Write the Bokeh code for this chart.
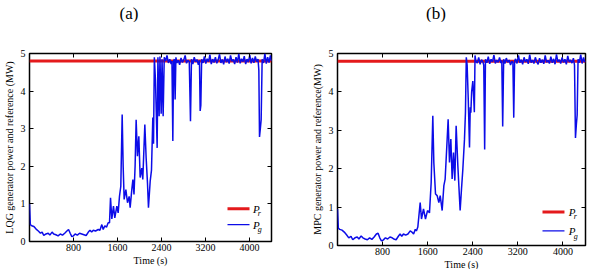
from bokeh.plotting import figure
from bokeh.layouts import row, column
from bokeh.models import LinearAxis, FixedTicker, Range1d, CustomLabelingPolicy, Div
from bokeh.core.properties import value
from bokeh.embed import file_html
from bokeh.resources import INLINE

# ---------------- data ----------------
X_TICKS = [800, 1600, 2400, 3200, 4000]
Y_TICKS = [0, 1, 2, 3, 4, 5]
X_RANGE = (0, 4400)
Y_RANGE = (0, 5)

REF_T = [0, 4400]
REF_P = [4.8, 4.8]

LQG_T = [0, 15, 40, 80, 120, 160, 200, 230, 260, 300, 340, 370, 410, 440, 480, 520, 560, 600, 640, 680,
         710, 740, 770, 800, 830, 870, 910, 950, 990, 1030, 1070, 1100, 1130, 1160, 1200, 1250, 1280, 1315,
         1340, 1370, 1400, 1430,
         1455, 1473, 1497, 1527, 1551, 1588, 1612, 1636, 1660, 1685, 1703, 1721, 1752, 1782, 1812, 1830,
         1860, 1880, 1900, 1920, 1939, 1963, 1988, 2012, 2042, 2060, 2097, 2121, 2145, 2163, 2194, 2218,
         2242, 2255, 2270, 2290, 2321, 2335, 2357, 2372, 2394, 2410, 2430, 2450,
         2475, 2500, 2525, 2550, 2575, 2590, 2606, 2620, 2635, 2648, 2662, 2680, 2705, 2730, 2755, 2780,
         2805, 2830, 2855, 2880, 2905, 2927, 2945, 2970, 2995, 3020, 3045, 3070, 3090, 3103, 3115, 3130,
         3155, 3180, 3205, 3230, 3255, 3280, 3305, 3330, 3355, 3380, 3405, 3430, 3455, 3480, 3505, 3530,
         3555, 3580, 3605, 3630, 3655, 3680, 3705, 3730, 3755, 3780, 3805, 3830, 3855, 3880, 3905, 3930,
         3955, 3980, 4005, 4030, 4055, 4080, 4105, 4130, 4155, 4170, 4182, 4197, 4212, 4230, 4255, 4280,
         4305, 4330, 4355, 4380, 4400]
LQG_P = [1.0, 0.45, 0.42, 0.4, 0.33, 0.28, 0.22, 0.25, 0.16, 0.2, 0.22, 0.17, 0.25, 0.2, 0.18, 0.15, 0.2, 0.17, 0.22, 0.28,
         0.32, 0.22, 0.13, 0.15, 0.2, 0.17, 0.22, 0.2, 0.18, 0.16, 0.25, 0.3, 0.25, 0.3, 0.28, 0.32, 0.3, 0.45,
         0.32, 0.42, 0.38, 0.5,
         0.5, 1.16, 0.6, 0.94, 0.63, 0.94, 0.76, 1.2, 1.47, 3.38, 2.0, 1.12, 1.38, 1.03, 1.2, 0.9,
         1.38, 1.65, 1.25, 2.0, 3.24, 2.27, 2.8, 1.7, 1.95, 1.65, 3.11, 2.22, 1.56, 0.9, 1.6, 1.9,
         3.3, 2.6, 4.9, 4.3, 2.49, 4.9, 3.33, 4.92, 3.4, 4.85, 3.33, 4.9,
         4.8, 4.95, 4.75, 4.85, 4.72, 4.8, 2.67, 4.8, 4.85, 3.78, 4.9, 4.75, 4.82, 4.7, 4.88, 4.76,
         4.83, 4.95, 4.74, 4.82, 4.78, 3.2, 4.85, 4.72, 4.9, 4.78, 4.84, 4.7, 4.82, 3.47, 3.62, 4.85,
         4.75, 4.92, 4.73, 4.86, 4.78, 4.97, 4.72, 4.85, 4.76, 4.9, 4.74, 4.83, 4.98, 4.75, 4.84, 4.71,
         4.92, 4.77, 4.86, 4.73, 4.95, 4.79, 4.84, 4.72, 4.9, 4.76, 4.99, 4.74, 4.86, 4.78, 4.93, 4.72,
         4.85, 4.77, 4.96, 4.74, 4.88, 4.75, 4.92, 4.78, 4.85, 4.55, 2.78, 3.0, 3.24, 4.85, 4.75, 5.0,
         4.73, 4.9, 4.76, 4.95, 4.8]

MPC_T = [0, 15, 40, 80, 120, 160, 200, 240, 270, 310, 350, 380, 420, 450, 490, 530, 570, 610, 650, 690,
         720, 750, 780, 810, 850, 890, 930, 970, 1010, 1040, 1080, 1110, 1140, 1170, 1210, 1250, 1290, 1320,
         1350, 1380, 1400, 1425,
         1467, 1490, 1526, 1561, 1597, 1632, 1662, 1691, 1709, 1739, 1768, 1798, 1822, 1857, 1887, 1910,
         1940, 1963, 1987, 2011, 2034, 2058, 2082, 2105, 2135, 2153, 2176, 2200, 2224, 2253, 2270, 2285,
         2300, 2320, 2342, 2355, 2366, 2380, 2401, 2415, 2428, 2440, 2455,
         2480, 2505, 2530, 2555, 2580, 2595, 2611, 2625, 2650, 2675, 2700, 2725, 2750, 2775, 2800, 2825,
         2850, 2875, 2900, 2915, 2931, 2948, 2970, 2995, 3020, 3045, 3070, 3095, 3112, 3127, 3142, 3160,
         3185, 3210, 3235, 3260, 3285, 3310, 3335, 3360, 3385, 3410, 3435, 3460, 3485, 3510, 3535, 3560,
         3585, 3610, 3635, 3660, 3685, 3710, 3735, 3760, 3785, 3810, 3835, 3860, 3885, 3910, 3935, 3960,
         3985, 4010, 4035, 4060, 4085, 4110, 4135, 4160, 4185, 4205, 4222, 4238, 4252, 4268, 4290, 4315,
         4340, 4365, 4385, 4400]
MPC_P = [0.95, 0.45, 0.42, 0.4, 0.35, 0.28, 0.2, 0.24, 0.15, 0.2, 0.22, 0.17, 0.25, 0.2, 0.17, 0.15, 0.2, 0.16, 0.22, 0.3,
         0.32, 0.2, 0.12, 0.14, 0.2, 0.17, 0.22, 0.2, 0.16, 0.15, 0.24, 0.3, 0.24, 0.3, 0.27, 0.3, 0.38, 0.35,
         0.3, 0.42, 0.38, 0.48,
         1.12, 0.69, 0.95, 0.69, 0.91, 0.85, 1.64, 3.38, 2.16, 1.34, 1.3, 1.12, 1.3, 0.91, 1.56, 1.73,
         2.6, 3.29, 2.16, 2.77, 1.73, 2.42, 1.69, 3.12, 2.08, 1.56, 0.91, 1.47, 1.99, 2.77, 3.46, 4.9,
         4.7, 3.8, 2.55, 3.6, 3.46, 4.0, 4.28, 3.9, 3.47, 4.95, 4.8,
         4.75, 4.9, 4.72, 4.84, 4.78, 4.7, 2.5, 4.85, 4.76, 4.92, 4.73, 4.85, 4.78, 4.96, 4.74, 4.83,
         4.77, 4.9, 4.75, 4.82, 3.1, 4.85, 4.74, 4.88, 4.77, 4.83, 4.7, 4.8, 4.76, 3.33, 4.8, 4.86,
         4.74, 4.95, 4.76, 4.84, 4.72, 4.9, 4.78, 4.85, 4.73, 4.97, 4.76, 4.83, 4.74, 4.9, 4.78, 4.72,
         4.88, 4.76, 4.84, 4.73, 4.95, 4.77, 4.82, 4.74, 4.92, 4.76, 4.86, 4.72, 4.98, 4.78, 4.84, 4.74,
         4.9, 4.77, 4.85, 4.72, 4.94, 4.78, 4.83, 4.75, 4.88, 4.7, 2.8, 3.15, 3.4, 4.85, 4.76, 4.97,
         4.74, 4.9, 4.78, 4.8]

PANEL_TITLES = ["(a)", "(b)"]
Y_LABELS = ["LQG generator power and reference (MW)", "MPC generator power and reference(MW)"]
X_LABEL = "Time (s)"

# ---------------- style ----------------
FONT = "Liberation Serif"
RED = "#e41a1c"
BLUE = "#0c0ce8"

NO_LABELS = """
for (const i of indices) {
    indices.unset(i)
}
return indices
"""


def make_panel(ylabel, t, pg, fw, fh, bl, br, bt, bb, leg):
    p = figure(frame_width=fw, frame_height=fh,
               x_range=Range1d(*X_RANGE), y_range=Range1d(*Y_RANGE),
               output_backend="svg", toolbar_location=None,
               min_border_left=bl, min_border_right=br,
               min_border_top=bt, min_border_bottom=bb,
               background_fill_color="white", border_fill_color="white")

    p.outline_line_color = "black"
    p.outline_line_width = 1.5
    p.outline_line_alpha = 1.0
    p.grid.visible = False

    for ax in (p.xaxis[0], p.yaxis[0]):
        ax.axis_line_color = None
        ax.major_tick_in = 4
        ax.major_tick_out = 0
        ax.minor_tick_line_color = None
        ax.major_tick_line_color = "black"
        ax.major_label_text_font = FONT
        ax.major_label_text_font_size = "10px"
        ax.major_label_text_color = "black"
        ax.axis_label_text_font = FONT
        ax.axis_label_text_font_size = "10px"
        ax.axis_label_text_font_style = "normal"
        ax.axis_label_text_color = "black"
    p.xaxis[0].ticker = FixedTicker(ticks=X_TICKS)
    p.yaxis[0].ticker = FixedTicker(ticks=Y_TICKS)
    p.xaxis[0].axis_label = X_LABEL
    p.yaxis[0].axis_label = ylabel
    p.xaxis[0].major_label_standoff = 2
    p.xaxis[0].axis_label_standoff = 1
    p.yaxis[0].major_label_standoff = 4
    p.yaxis[0].axis_label_standoff = 3

    # mirrored axes (ticks only) on top and right, MATLAB-style box
    for side, ticks in (("above", X_TICKS), ("right", Y_TICKS)):
        ax = LinearAxis(ticker=FixedTicker(ticks=ticks))
        ax.axis_line_color = None
        ax.major_tick_in = 4
        ax.major_tick_out = 0
        ax.minor_tick_line_color = None
        ax.major_label_policy = CustomLabelingPolicy(code=NO_LABELS)
        ax.major_label_standoff = 0
        p.add_layout(ax, side)

    p.line(REF_T, REF_P, color=RED, line_width=3)
    p.line(t, pg, color=BLUE, line_width=1.5)

    # legend (drawn by hand to allow subscripts)
    lx0, lx1, ptx, subx, yr, yg = leg
    p.line([lx0, lx1], [yr, yr], color=RED, line_width=3)
    p.line([lx0, lx1], [yg, yg], color=BLUE, line_width=1.2)
    p.text(x=[ptx, ptx], y=[yr, yg], text=["P", "P"],
           text_font=value(FONT), text_font_size="11px", text_font_style="italic",
           text_baseline="middle", text_align="left", text_color="black")
    p.text(x=[subx, subx], y=[yr - 0.12, yg - 0.14], text=["r", "g"],
           text_font=value(FONT), text_font_size="8px", text_font_style="italic",
           text_baseline="middle", text_align="left", text_color="black")
    return p


def title_div(text, width, align, indent):
    return Div(text=text, width=width, height=14, margin=0,
               styles={"font-family": FONT, "font-size": "17px", "line-height": "14px",
                       "text-align": align, "text-indent": f"{indent}px",
                       "color": "black", "white-space": "nowrap"})


p1 = make_panel(Y_LABELS[0], LQG_T, LQG_P,
                242, 188, 27, 22, 32, 27, (3600, 4000, 4065, 4150, 0.87, 0.45))
p2 = make_panel(Y_LABELS[1], MPC_T, MPC_P,
                248, 192, 44, 5, 29, 26, (3637, 4027, 4104, 4190, 0.87, 0.38))

titles = row(title_div(PANEL_TITLES[0], 258, "center", 0),
             title_div(PANEL_TITLES[1], 320, "left", 168))
layout = column(titles, row(p1, p2), margin=(7, 0, 0, 0))
open("out.html", "w").write(file_html(layout, INLINE))
